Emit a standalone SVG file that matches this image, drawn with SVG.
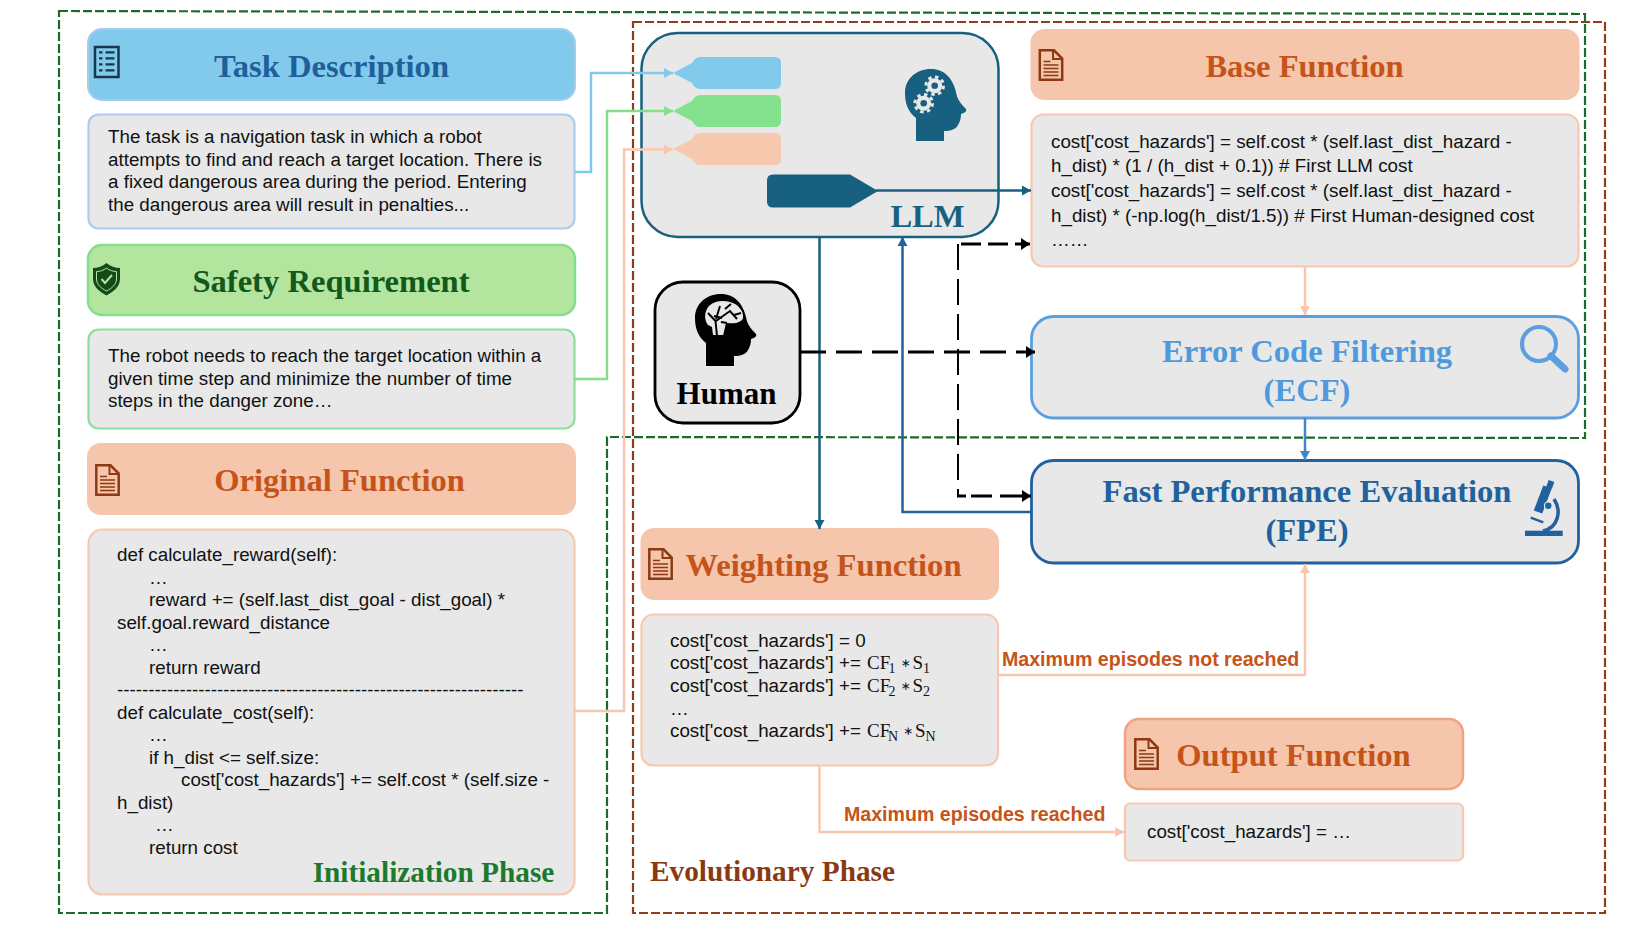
<svg xmlns="http://www.w3.org/2000/svg" xmlns:xlink="http://www.w3.org/1999/xlink" width="1644" height="925" viewBox="0 0 1644 925">
<style>
.box{fill:#e8e8e8;stroke-width:2.2}
.h{font-family:"Liberation Serif","Times New Roman",serif;font-weight:bold;font-size:32.6px;text-anchor:middle}
.ph{font-size:29.3px}
.t{font-family:"Liberation Sans",Arial,sans-serif;font-size:18.8px;fill:#111}
.m{font-family:"Liberation Serif","Times New Roman",serif;font-size:19px}
.s{font-family:"Liberation Serif","Times New Roman",serif;font-size:14px}
.o{font-family:"DejaVu Sans",sans-serif;font-size:12px}
.l{font-family:"Liberation Sans",Arial,sans-serif;font-weight:bold;font-size:19.6px;fill:#c4541a}
.c{fill:none;stroke-width:2.5}
.peach{fill:#f5c6ab}
.pe{stroke:#f8c8ae}
.bl{stroke:#82caec}
.gr{stroke:#84de8c}
.te{stroke:#18607f}
.fb{stroke:#20619e}
.ec{stroke:#5a9fdf}
.dash{fill:none;stroke:#000;stroke-width:3;stroke-dasharray:26 10}
.dash2{fill:none;stroke:#000;stroke-width:2;stroke-dasharray:26 9}
.phase{fill:none;stroke-width:2.2;stroke-dasharray:9 3}
</style>
<defs>
<marker id="aPe" markerUnits="userSpaceOnUse" markerWidth="10" markerHeight="11" refX="9" refY="5.5" orient="auto"><path d="M0 .5L9 5.5L0 10.500Z" fill="#f8c8ae"/></marker>
<marker id="aBl" markerUnits="userSpaceOnUse" markerWidth="10" markerHeight="11" refX="9" refY="5.5" orient="auto"><path d="M0 .5L9 5.5L0 10.500Z" fill="#82caec"/></marker>
<marker id="aGr" markerUnits="userSpaceOnUse" markerWidth="10" markerHeight="11" refX="9" refY="5.5" orient="auto"><path d="M0 .5L9 5.5L0 10.500Z" fill="#84de8c"/></marker>
<marker id="aTe" markerUnits="userSpaceOnUse" markerWidth="10" markerHeight="11" refX="9" refY="5.5" orient="auto"><path d="M0 .5L9 5.5L0 10.500Z" fill="#18607f"/></marker>
<marker id="aFb" markerUnits="userSpaceOnUse" markerWidth="10" markerHeight="11" refX="9" refY="5.5" orient="auto"><path d="M0 .5L9 5.5L0 10.500Z" fill="#20619e"/></marker>
<marker id="aEc" markerUnits="userSpaceOnUse" markerWidth="10" markerHeight="11" refX="9" refY="5.5" orient="auto"><path d="M0 .5L9 5.5L0 10.500Z" fill="#3f86c8"/></marker>
<marker id="aK" markerUnits="userSpaceOnUse" markerWidth="10" markerHeight="13" refX="9" refY="6.500" orient="auto"><path d="M0 .5L9 6.500L0 12.500Z" fill="#000"/></marker>
<g id="doc" fill="none" stroke="#8d3a14"><path d="M1.300 1.300H15.500L23.700 9.500V30.700H1.300Z" stroke-width="2.500"/><path d="M14.500 1.500V10H23.500" stroke-width="2"/><path d="M5 12.500H12M5 16H20M5 19.500H20M5 23H20M5 26.500H20" stroke-width="1.500"/></g>
<path id="head" d="M916 141V118C908 112 905 103 905 93C905 79 916 69 931 69C945 69 953 79 956 92C957 99 961 104 966 109C967 111 965 113 961 114C961 118 960 122 958 125C956 129 951 131 944 131V141Z"/>
<g id="gear"><circle r="7.500" fill="#e8e8e8"/><circle r="8.800" fill="none" stroke="#e8e8e8" stroke-width="3" stroke-dasharray="3.450 3.460"/><circle r="3.300" fill="#18607f"/></g>
</defs>
<g id="phases">
<path class="phase" stroke="#1c6b2a" d="M59 11L1585 14V438L607 437V913H59Z"/>
<path class="phase" stroke="#8f3f17" d="M633 22H1605V913H633Z"/>
<text x="650" y="881" class="h ph" style="text-anchor:start" fill="#8a3a12">Evolutionary Phase</text>
</g>

<g id="task-description">
<rect x="88" y="29" width="487" height="71" rx="14" fill="#82caec" stroke="#a4cdec" stroke-width="2"/>
<rect x="95" y="47" width="23.500" height="30" fill="none" stroke="#17384c" stroke-width="2.500"/>
<path d="M99 52.300h3.500M105.500 52.300h9M99 58.300h3.500M105.500 58.300h9M99 64.300h3.500M105.500 64.300h9M99 70.300h3.500M105.500 70.300h9" stroke="#17384c" stroke-width="2.200" fill="none"/>
<text x="331.500" y="76.500" class="h" fill="#215f9a">Task Description</text>
</g>
<g id="task-text">
<rect class="box" x="88.500" y="114.500" width="486" height="114" rx="10" stroke="#a9cdf0"/>
<text class="t" x="108" y="143">The task is a navigation task in which a robot</text>
<text class="t" x="108" y="166">attempts to find and reach a target location. There is</text>
<text class="t" x="108" y="188">a fixed dangerous area during the period. Entering</text>
<text class="t" x="108" y="211">the dangerous area will result in penalties...</text>
</g>
<g id="safety-requirement">
<rect x="88" y="245" width="487" height="70" rx="14" fill="#b3e59f" stroke="#84de8c" stroke-width="2.500"/>
<path d="M106.500 263C110.500 266.500 115 268 120 268V279C120 287 113 292 106.500 295.500C100 292 93 287 93 279V268C98 268 102.500 266.500 106.500 263Z" fill="#14491a"/>
<path d="M106.500 268C109.500 270.500 113 271.500 116.500 271.500V279C116.500 284.500 111.500 288.500 106.500 291C101.500 288.500 96.500 284.500 96.500 279V271.500C100 271.500 103.500 270.500 106.500 268Z" fill="none" stroke="#b3e59f" stroke-width="1"/>
<path d="M101.500 279L105 283L112 275" fill="none" stroke="#b3e59f" stroke-width="2"/>
<text x="331" y="291.500" class="h" fill="#14591c">Safety Requirement</text>
</g>
<g id="safety-text">
<rect class="box" x="88.500" y="329.500" width="486" height="99" rx="10" stroke="#88e09a"/>
<text class="t" x="108" y="362">The robot needs to reach the target location within a</text>
<text class="t" x="108" y="385">given time step and minimize the number of time</text>
<text class="t" x="108" y="407">steps in the danger zone…</text>
</g>
<g id="original-function">
<rect class="peach" x="87" y="443" width="489" height="72" rx="14"/>
<use xlink:href="#doc" href="#doc" x="95" y="464"/>
<text x="339.500" y="491" class="h" fill="#c4541a">Original Function</text>
</g>
<g id="original-text">
<rect class="box" x="88.500" y="529.500" width="486" height="365" rx="14" stroke="#f8c8ae"/>
<text class="t" x="117" y="561">def calculate_reward(self):</text>
<text class="t" x="149" y="584">…</text>
<text class="t" x="149" y="606">reward += (self.last_dist_goal - dist_goal) *</text>
<text class="t" x="117" y="629">self.goal.reward_distance</text>
<text class="t" x="149" y="651">…</text>
<text class="t" x="149" y="674">return reward</text>
<text class="t" x="117" y="696">-----------------------------------------------------------------</text>
<text class="t" x="117" y="719">def calculate_cost(self):</text>
<text class="t" x="149" y="741">…</text>
<text class="t" x="149" y="764">if h_dist &lt;= self.size:</text>
<text class="t" x="181" y="786">cost['cost_hazards'] += self.cost * (self.size -</text>
<text class="t" x="117" y="809">h_dist)</text>
<text class="t" x="155" y="831">…</text>
<text class="t" x="149" y="854">return cost</text>
<text x="433.500" y="882" class="h ph" fill="#1c7a2e">Initialization Phase</text>
</g>

<g id="llm">
<rect x="641.500" y="33" width="357" height="204" rx="36" fill="#e8e8e8" stroke="#18607f" stroke-width="2.500"/>
<path fill="#82caec" d="M673 73L692 63Q695 57 700 57H775Q781 57 781 63V83Q781 89 775 89H700Q695 89 692 83Z"/>
<path fill="#84e28f" d="M673 111L692 101Q695 95 700 95H775Q781 95 781 101V121Q781 127 775 127H700Q695 127 692 121Z"/>
<path fill="#f6c8ae" d="M673 149L692 139Q695 133 700 133H775Q781 133 781 139V159Q781 165 775 165H700Q695 165 692 159Z"/>
<path fill="#18607f" d="M878 191L850 207.500H773Q767 207.500 767 201.500V180.500Q767 174.500 773 174.500H850Z"/>
<use xlink:href="#head" href="#head" fill="#18607f"/>
<use xlink:href="#gear" href="#gear" x="934.700" y="85.700"/>
<use xlink:href="#gear" href="#gear" x="923.700" y="103.300"/>
<text x="927.500" y="226.500" class="h" fill="#18607f">LLM</text>
</g>
<g id="human">
<rect x="655" y="282" width="145" height="141" rx="28" fill="#e8e8e8" stroke="#000" stroke-width="2.800"/>
<use xlink:href="#head" href="#head" x="-210" y="225" fill="#000"/>
<path fill="#e8e8e8" d="M708 325C704 320 704 312 709 306C714 301 722 300 730 302C738 304 744 311 743 318C742 322 736 324 727 323L724 335H713L712 327Z"/>
<path fill="none" stroke="#000" stroke-width="2" d="M717 336L715.500 321L708 313M716 319L720 306M714 316L722 318M716 321L730 311L737 319M725 309L731 304M727 323L724 336M721 322L727 323M734 315L741 313"/>
<text x="726.500" y="403.500" class="h" style="font-size:31px" fill="#000">Human</text>
</g>
<g id="base-function">
<rect class="peach" x="1030.500" y="29" width="549" height="71" rx="14"/>
<use xlink:href="#doc" href="#doc" x="1038.500" y="49"/>
<text x="1304.500" y="76.500" class="h" fill="#c4541a">Base Function</text>
</g>
<g id="base-text">
<rect class="box" x="1031.500" y="114.500" width="547" height="152" rx="12" stroke="#f8c8ae"/>
<text class="t" x="1051" y="148">cost['cost_hazards'] = self.cost * (self.last_dist_hazard -</text>
<text class="t" x="1051" y="172">h_dist) * (1 / (h_dist + 0.1)) # First LLM cost</text>
<text class="t" x="1051" y="197">cost['cost_hazards'] = self.cost * (self.last_dist_hazard -</text>
<text class="t" x="1051" y="222">h_dist) * (-np.log(h_dist/1.5)) # First Human-designed cost</text>
<text class="t" x="1051" y="246">……</text>
</g>
<g id="ecf">
<rect x="1031.500" y="316.500" width="547" height="101.500" rx="22" fill="#e8e8e8" stroke="#5a9fdf" stroke-width="2.800"/>
<text x="1307" y="362" class="h" fill="#4f9ade">Error Code Filtering</text>
<text x="1307" y="401" class="h" fill="#4f9ade">(ECF)</text>
<circle cx="1539" cy="344" r="17" fill="none" stroke="#5a9fdf" stroke-width="4"/>
<path d="M1551 356L1565 369" stroke="#5a9fdf" stroke-width="7" stroke-linecap="round"/>
</g>
<g id="fpe">
<rect x="1031.500" y="460.500" width="547" height="102.500" rx="22" fill="#e8e8e8" stroke="#20619e" stroke-width="2.800"/>
<text x="1307" y="502" class="h" fill="#20619e">Fast Performance Evaluation</text>
<text x="1307" y="541" class="h" fill="#20619e">(FPE)</text>
<rect x="1525" y="530.700" width="37.700" height="5.300" fill="#20619e"/>
<path d="M1551.500 481L1549 488" stroke="#20619e" stroke-width="6"/>
<path d="M1547.500 487L1538 512" stroke="#20619e" stroke-width="9"/>
<path d="M1554 499C1562 511 1558 528 1543 531" fill="none" stroke="#20619e" stroke-width="3.500"/>
<path d="M1530.700 517.700L1543.300 522.300" stroke="#20619e" stroke-width="2.500"/>
<circle cx="1548.300" cy="505.700" r="3.800" fill="#20619e" stroke="#e8e8e8" stroke-width="1.200"/>
</g>
<g id="weighting-function">
<rect class="peach" x="640.500" y="528" width="358.500" height="72" rx="14"/>
<use xlink:href="#doc" href="#doc" x="648" y="548"/>
<text x="823.500" y="575.500" class="h" fill="#c4541a">Weighting Function</text>
</g>
<g id="weighting-text">
<rect class="box" x="641.500" y="614.500" width="356.500" height="151" rx="12" stroke="#f8c8ae"/>
<text class="t" x="670" y="647">cost['cost_hazards'] = 0</text>
<text class="t" x="670" y="669">cost['cost_hazards'] +=<tspan class="m" x="867">CF</tspan><tspan class="s" x="888.500" y="673">1</tspan><tspan class="o" x="900.500" y="667">∗</tspan><tspan class="m" x="912.500" y="669">S</tspan><tspan class="s" x="923" y="673">1</tspan></text>
<text class="t" x="670" y="692">cost['cost_hazards'] +=<tspan class="m" x="867">CF</tspan><tspan class="s" x="888.500" y="696">2</tspan><tspan class="o" x="900.500" y="690">∗</tspan><tspan class="m" x="912.500" y="692">S</tspan><tspan class="s" x="923" y="696">2</tspan></text>
<text class="t" x="670" y="715">…</text>
<text class="t" x="670" y="737">cost['cost_hazards'] +=<tspan class="m" x="867">CF</tspan><tspan class="s" x="888" y="741">N</tspan><tspan class="o" x="903" y="735">∗</tspan><tspan class="m" x="915" y="737">S</tspan><tspan class="s" x="925.500" y="741">N</tspan></text>
</g>
<g id="output-function">
<rect class="peach" x="1125" y="719" width="338" height="70" rx="14" stroke="#f0a283" stroke-width="2.500"/>
<use xlink:href="#doc" href="#doc" x="1134" y="738"/>
<text x="1293.500" y="766" class="h" fill="#c4541a">Output Function</text>
</g>
<g id="output-text">
<rect class="box" x="1125" y="803.500" width="338" height="57" rx="5" stroke="#f8c8ae"/>
<text class="t" x="1147" y="838">cost['cost_hazards'] = …</text>
</g>

<g id="connectors">
<path class="c bl" marker-end="url(#aBl)" d="M575 172H591V73H673"/>
<path class="c gr" marker-end="url(#aGr)" d="M575 379H607V111H673"/>
<path class="c pe" marker-end="url(#aPe)" d="M575 711H624V149.500H673"/>
<path class="c te" marker-end="url(#aTe)" d="M876 190.500H1031"/>
<path class="c te" marker-end="url(#aTe)" d="M819.500 237V529"/>
<path class="c fb" marker-end="url(#aFb)" d="M1031 512H902.500V237"/>
<path class="c pe" marker-end="url(#aPe)" d="M1305 267V315"/>
<path class="c" stroke="#3f86c8" marker-end="url(#aEc)" d="M1305 418V460"/>
<path class="c pe" marker-end="url(#aPe)" d="M999 675H1305V564"/>
<path class="c pe" marker-end="url(#aPe)" d="M819.500 766V832H1124"/>
<path class="dash" marker-end="url(#aK)" d="M800 352H1035"/>
<path class="dash" style="stroke-dasharray:20 7" marker-end="url(#aK)" d="M961 244H1030"/>
<path class="dash2" d="M958 244V496"/>
<path class="dash" style="stroke-dasharray:9 5 21 8 40" marker-end="url(#aK)" d="M957 496H1031"/>
<text class="l" x="1002" y="665.500">Maximum episodes not reached</text>
<text class="l" x="844" y="820.500">Maximum episodes reached</text>
</g>
</svg>
